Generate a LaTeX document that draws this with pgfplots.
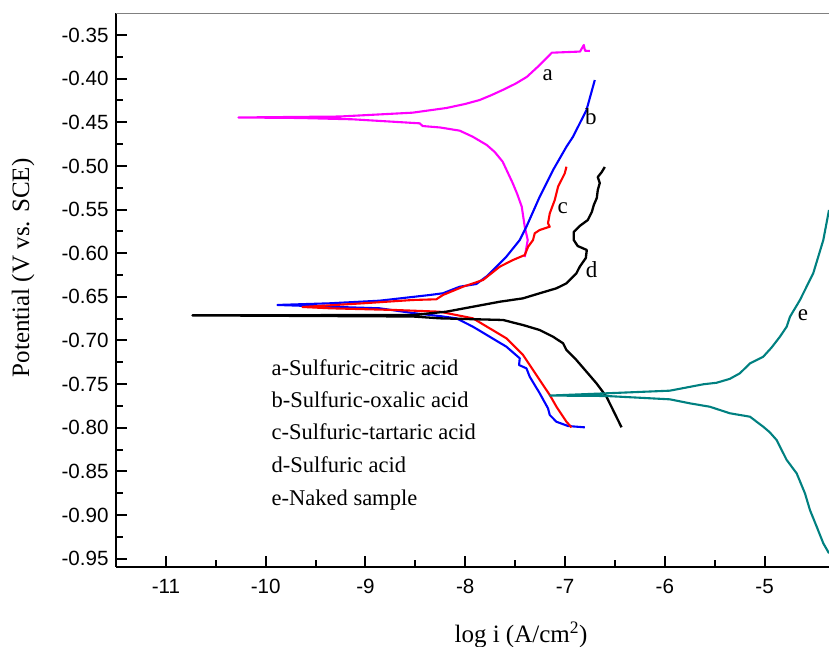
\documentclass[border=0pt]{standalone}
\usepackage{fontspec}
\setmainfont{Liberation Serif}
\newfontfamily\arialfont{Liberation Sans}
\usepackage{pgfplots}
\pgfplotsset{compat=1.18}
\definecolor{cA}{RGB}{255,0,255}
\definecolor{cB}{RGB}{0,0,255}
\definecolor{cC}{RGB}{255,0,0}
\definecolor{cD}{RGB}{0,0,0}
\definecolor{cE}{RGB}{0,128,128}

\begin{document}
\begin{tikzpicture}
\begin{axis}[
    scale only axis,
    width=713pt, height=554pt,
    xmin=-11.5, xmax=-4.355,
    ymin=-0.9595, ymax=-0.3248,
    axis x line=bottom, axis y line=left,
    axis line style={-, line width=2.5pt},
    xtick={-11,-10,-9,-8,-7,-6,-5},
    ytick={-0.95,-0.90,-0.85,-0.80,-0.75,-0.70,-0.65,-0.60,-0.55,-0.50,-0.45,-0.40,-0.35},
    minor x tick num=1, minor y tick num=1,
    tick align=inside,
    major tick length=11pt, minor tick length=7pt,
    tick style={black, line width=2pt},
    /pgf/number format/assume math mode=true,
    ticklabel style={font=\arialfont\fontsize{20.6}{24}\selectfont},
    yticklabel style={xshift=-4pt, /pgf/number format/fixed, /pgf/number format/fixed zerofill, /pgf/number format/precision=2},
    xticklabel style={yshift=-9pt},
    xlabel={log i (A/cm\textsuperscript{2})},
    xlabel style={at={(rel axis cs:0.568,-0.137)}, anchor=base, font=\fontsize{25}{30}\selectfont},
    ylabel={Potential (V vs. SCE)},
    ylabel style={at={(rel axis cs:-0.1304,0.54)}, anchor=center, font=\fontsize{25}{30}\selectfont},
    clip mode=individual,
    every axis plot/.append style={line join=round},
]
\coordinate (O) at (rel axis cs:0,0);
\coordinate (T) at (rel axis cs:1,1);
\draw[gray, line width=0.8pt] (rel axis cs:0,1) -- (rel axis cs:1,1);

% a - sulfuric-citric acid
\addplot[cA, line width=2.1pt] coordinates {
(-7.404,-0.6044) (-7.374,-0.5849) (-7.404,-0.5696) (-7.434,-0.5467)
(-7.480,-0.5320) (-7.525,-0.5196) (-7.625,-0.4952) (-7.705,-0.4840)
(-7.785,-0.4760) (-7.926,-0.4665)
(-8.056,-0.4596) (-8.250,-0.4560) (-8.427,-0.4543) (-8.457,-0.4512) (-9.129,-0.4466)
(-9.661,-0.4451) (-10.273,-0.4445) (-9.260,-0.4434) (-8.528,-0.4390)
(-8.187,-0.4336) (-8.000,-0.4290) (-7.856,-0.4245) (-7.740,-0.4190) (-7.625,-0.4130)
(-7.500,-0.4060) (-7.384,-0.3981)
(-7.254,-0.3844) (-7.133,-0.3703) (-6.850,-0.3690) (-6.812,-0.3615)
(-6.800,-0.3680) (-6.752,-0.3683)
};

% b - sulfuric-oxalic acid
\addplot[cB, line width=2.1pt] coordinates {
(-6.802,-0.7995) (-6.970,-0.7980) (-7.086,-0.7931) (-7.153,-0.7854)
(-7.171,-0.7777) (-7.254,-0.7605) (-7.354,-0.7415) (-7.387,-0.7319)
(-7.461,-0.7281) (-7.454,-0.7204) (-7.588,-0.7071) (-7.755,-0.6957)
(-7.923,-0.6842) (-8.089,-0.6746) (-8.257,-0.6720) (-8.528,-0.6685)
(-8.859,-0.6631) (-9.360,-0.6613) (-9.882,-0.6593) (-9.360,-0.6574)
(-8.859,-0.6544) (-8.357,-0.6479) (-8.224,-0.6459) (-8.056,-0.6384)
(-7.889,-0.6353) (-7.780,-0.6260) (-7.688,-0.6155) (-7.588,-0.6040) (-7.454,-0.5849)
(-7.387,-0.5696) (-7.254,-0.5353) (-7.120,-0.5047) (-6.986,-0.4780)
(-6.920,-0.4665) (-6.785,-0.4359) (-6.702,-0.4016)
};

% c - sulfuric-tartaric acid
\addplot[cC, line width=2.1pt] coordinates {
(-6.936,-0.7995) (-6.986,-0.7931) (-7.086,-0.7759) (-7.153,-0.7625)
(-7.254,-0.7453) (-7.354,-0.7281) (-7.421,-0.7166) (-7.588,-0.6975)
(-7.755,-0.6861) (-7.923,-0.6746) (-8.257,-0.6670) (-8.691,-0.6651)
(-9.360,-0.6631) (-9.631,-0.6616) (-9.026,-0.6574) (-8.525,-0.6536)
(-8.290,-0.6528) (-8.224,-0.6479) (-8.023,-0.6384) (-7.822,-0.6307)
(-7.655,-0.6155) (-7.522,-0.6078) (-7.404,-0.6021) (-7.370,-0.5926)
(-7.321,-0.5849) (-7.304,-0.5772) (-7.254,-0.5734) (-7.153,-0.5696)
(-7.171,-0.5657) (-7.153,-0.5543) (-7.103,-0.5390) (-7.070,-0.5238)
(-7.003,-0.5085) (-6.986,-0.5009)
};

% d - sulfuric acid
\addplot[cD, line width=2.3pt] coordinates {
(-6.434,-0.7995) (-6.519,-0.7797) (-6.585,-0.7644) (-6.685,-0.7491)
(-6.785,-0.7358) (-6.886,-0.7224) (-6.986,-0.7109) (-7.020,-0.7032)
(-7.120,-0.6957) (-7.254,-0.6880) (-7.421,-0.6823) (-7.622,-0.6765)
(-8.257,-0.6746) (-8.525,-0.6725) (-10.734,-0.6712) (-8.525,-0.6708)
(-8.190,-0.6670) (-7.923,-0.6613) (-7.655,-0.6556) (-7.421,-0.6517)
(-7.254,-0.6459) (-7.086,-0.6402) (-6.986,-0.6345) (-6.886,-0.6230)
(-6.853,-0.6155) (-6.792,-0.6055) (-6.782,-0.5963) (-6.873,-0.5918)
(-6.913,-0.5849) (-6.913,-0.5757) (-6.853,-0.5688) (-6.772,-0.5620)
(-6.732,-0.5528) (-6.712,-0.5448) (-6.682,-0.5368) (-6.672,-0.5276)
(-6.652,-0.5196) (-6.672,-0.5127) (-6.632,-0.5070) (-6.602,-0.5012)
};

% e - naked sample
\addplot[cE, line width=2.1pt] coordinates {
(-4.355,-0.9438) (-4.412,-0.9324) (-4.478,-0.9134) (-4.546,-0.8942)
(-4.596,-0.8751) (-4.679,-0.8522) (-4.779,-0.8369) (-4.880,-0.8140)
(-4.950,-0.8050) (-5.014,-0.7988) (-5.147,-0.7873) (-5.348,-0.7834) (-5.549,-0.7759)
(-5.749,-0.7720) (-5.950,-0.7674) (-6.585,-0.7636) (-7.153,-0.7631)
(-6.585,-0.7605) (-5.950,-0.7575) (-5.616,-0.7502) (-5.481,-0.7484)
(-5.350,-0.7440) (-5.248,-0.7376) (-5.147,-0.7262) (-5.014,-0.7186) (-4.930,-0.7080) (-4.847,-0.6957)
(-4.779,-0.6842) (-4.746,-0.6728) (-4.646,-0.6536) (-4.513,-0.6230)
(-4.412,-0.5849) (-4.355,-0.5505)
};

\node[font=\fontsize{23}{27}\selectfont] at (axis cs:-7.174,-0.3958) {a};
\node[font=\fontsize{23}{27}\selectfont] at (axis cs:-6.742,-0.4440) {b};
\node[font=\fontsize{23}{27}\selectfont] at (axis cs:-7.023,-0.5486) {c};
\node[font=\fontsize{23}{27}\selectfont] at (axis cs:-6.735,-0.6193) {d};
\node[font=\fontsize{23}{27}\selectfont] at (axis cs:-4.615,-0.6708) {e};

\node[anchor=base west, inner sep=0pt, font=\fontsize{22.5}{27}\selectfont] at (axis cs:-9.942,-0.7396) {a-Sulfuric-citric acid};
\node[anchor=base west, inner sep=0pt, font=\fontsize{22.5}{27}\selectfont] at (axis cs:-9.942,-0.7768) {b-Sulfuric-oxalic acid};
\node[anchor=base west, inner sep=0pt, font=\fontsize{22.5}{27}\selectfont] at (axis cs:-9.942,-0.8140) {c-Sulfuric-tartaric acid};
\node[anchor=base west, inner sep=0pt, font=\fontsize{22.5}{27}\selectfont] at (axis cs:-9.942,-0.8513) {d-Sulfuric acid};
\node[anchor=base west, inner sep=0pt, font=\fontsize{22.5}{27}\selectfont] at (axis cs:-9.942,-0.8885) {e-Naked sample};
\end{axis}
\pgfresetboundingbox
\path[use as bounding box] ([shift={(-116pt,-80pt)}]O) rectangle ([shift={(0pt,13pt)}]T);
\end{tikzpicture}
\end{document}
